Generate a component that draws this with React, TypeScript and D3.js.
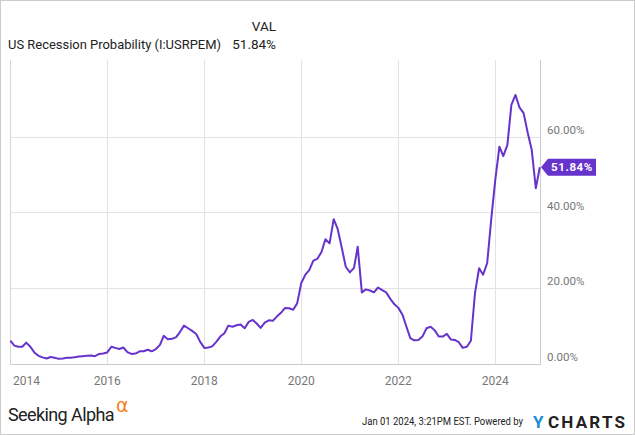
import React from "react";
import * as d3 from "d3";

const seriesName = "US Recession Probability (I:USRPEM)";
const lastLabel = "51.84%";
const startYear = 2014;
const values: number[] = [
  5.9, 4.6, 4.3, 4.3, 5.4, 4.3, 2.8, 1.9, 1.5, 1.2, 1.6, 1.4,
  1.1, 1.2, 1.4, 1.4, 1.5, 1.7, 1.8, 1.9, 2.0, 1.8, 2.4, 2.5,
  2.8, 4.3, 4.0, 3.7, 4.1, 2.9, 2.4, 2.5, 3.1, 3.1, 3.5, 3.1,
  3.7, 4.8, 7.2, 6.3, 6.4, 6.8, 8.2, 9.9, 9.2, 8.5, 7.7, 5.6,
  4.0, 4.1, 4.4, 5.6, 7.0, 7.9, 9.9, 9.6, 10.0, 10.2, 9.2, 10.9,
  11.4, 10.4, 9.3, 10.7, 11.3, 11.2, 12.3, 13.3, 14.6, 14.5, 14.1, 15.8,
  21.2, 23.4, 24.6, 27.1, 27.6, 29.4, 32.8, 31.7, 38.1, 35.5, 30.5, 25.5,
  24.0, 25.2, 30.8, 18.7, 19.5, 19.2, 18.7, 20.0, 19.3, 18.7, 17.0, 15.6,
  14.6, 12.8, 9.8, 6.6, 6.0, 6.1, 7.0, 9.2, 9.6, 8.7, 7.0, 7.0,
  7.7, 6.2, 6.1, 5.5, 4.0, 4.3, 5.9, 18.5, 25.1, 23.4, 26.5, 38.0,
  48.6, 57.3, 54.8, 57.8, 68.4, 71.0, 67.7, 66.2, 61.0, 56.5, 46.3, 51.84,
];
const yTicks = [0, 20, 40, 60];
const xTickYears = [2014, 2016, 2018, 2020, 2022, 2024];

const W = 635;
const H = 435;
const PURPLE = "#6633cc";
const FONT = "Roboto, 'Open Sans', sans-serif";

export default function App() {
  const dates = values.map((_, i) => new Date(startYear, i, 1));
  const x = d3
    .scaleTime()
    .domain([new Date(startYear, 0, 1), dates[dates.length - 1]])
    .range([10.3, 539.8]);
  const y = d3.scaleLinear().domain([0, 60]).range([363, 136.5]);
  const line = d3
    .line<number>()
    .x((_, i) => x(dates[i]))
    .y((d) => y(d))
    .curve(d3.curveLinear);

  const plotLeft = 10;
  const plotRight = 540;
  const plotTop = 60;
  const plotBottom = 364;
  const last = values[values.length - 1];
  const ly = y(last);

  return (
    <div style={{ position: "fixed", left: 0, top: 0 }}>
      <svg width={W} height={H} style={{ display: "block", background: "#fff" }}>
        <rect x={0.5} y={0.5} width={W - 1} height={H - 1} fill="#fff" stroke="#cccccc" />
        {/* header */}
        <text x={276} y={31} textAnchor="end" fontFamily={FONT} fontSize={13.5} fill="#222">VAL</text>
        <text x={8} y={48.5} fontFamily={FONT} fontSize={13.5} fill="#222" textLength={213} lengthAdjust="spacingAndGlyphs">{seriesName}</text>
        <text x={276} y={48.5} textAnchor="end" fontFamily={FONT} fontSize={13.5} fill="#222">{lastLabel}</text>

        {/* grid */}
        {yTicks.filter((t) => t > 0).map((t) => (
          <line key={"gy" + t} x1={plotLeft} x2={plotRight} y1={Math.round(y(t)) + 0.5} y2={Math.round(y(t)) + 0.5} stroke="#e3e3e3" />
        ))}
        {xTickYears.filter((yr) => yr > startYear).map((yr) => {
          const xx = Math.round(x(new Date(yr, 0, 1))) + 0.5;
          return <line key={"gx" + yr} x1={xx} x2={xx} y1={plotTop} y2={plotBottom} stroke="#e3e3e3" />;
        })}
        <line x1={plotLeft + 0.5} x2={plotLeft + 0.5} y1={plotTop} y2={plotBottom} stroke="#d6d6d6" />
        <line x1={plotRight + 0.5} x2={plotRight + 0.5} y1={plotTop} y2={plotBottom + 1} stroke="#cccccc" />
        <line x1={plotLeft} x2={plotRight + 1} y1={plotBottom + 0.5} y2={plotBottom + 0.5} stroke="#cccccc" />

        {/* series */}
        <path d={line(values) || ""} fill="none" stroke={PURPLE} strokeWidth={2} strokeLinejoin="round" />

        {/* right axis labels */}
        {yTicks.map((t) => (
          <text key={"yl" + t} x={547} y={y(t) - 2.3} fontFamily={FONT} fontSize={11.5} fill="#777">
            {t.toFixed(2) + "%"}
          </text>
        ))}

        {/* badge */}
        <path
          d={`M${plotRight + 1},${ly} L${548},${ly - 8.5} L${596},${ly - 8.5} L${596},${ly + 8.5} L${548},${ly + 8.5} Z`}
          fill={PURPLE}
        />
        <text x={572} y={ly + 4} textAnchor="middle" fontFamily={FONT} fontSize={11.5} fontWeight="bold" fill="#fff" letterSpacing={0.6}>
          {lastLabel}
        </text>

        {/* bottom axis labels */}
        {xTickYears.map((yr) => {
          const xx = x(new Date(yr, 0, 1));
          const first = yr === startYear;
          return (
            <text key={"xl" + yr} x={first ? 13 : xx} y={385} textAnchor={first ? "start" : "middle"} fontFamily={FONT} fontSize={12} fill="#777">
              {yr}
            </text>
          );
        })}

        {/* footer */}
        <text x={8} y={421} fontFamily={FONT} fontSize={18} fill="#222" letterSpacing={-0.6}>Seeking Alpha</text>
        <text x={116} y={412} fontFamily="'DejaVu Sans', sans-serif" fontSize={19} fill="#f58220">α</text>
        <text x={362} y={425} fontFamily={FONT} fontSize={10} fill="#222" textLength={161} lengthAdjust="spacingAndGlyphs">
          Jan 01 2024, 3:21PM EST.  Powered by
        </text>
        <text x={533} y={428} fontFamily={FONT} fontSize={17} fontWeight="bold" fill="#222">
          <tspan fill="#1a8fd8">Y</tspan>
          <tspan x={548} letterSpacing={2.2}>CHARTS</tspan>
        </text>
      </svg>
    </div>
  );
}
